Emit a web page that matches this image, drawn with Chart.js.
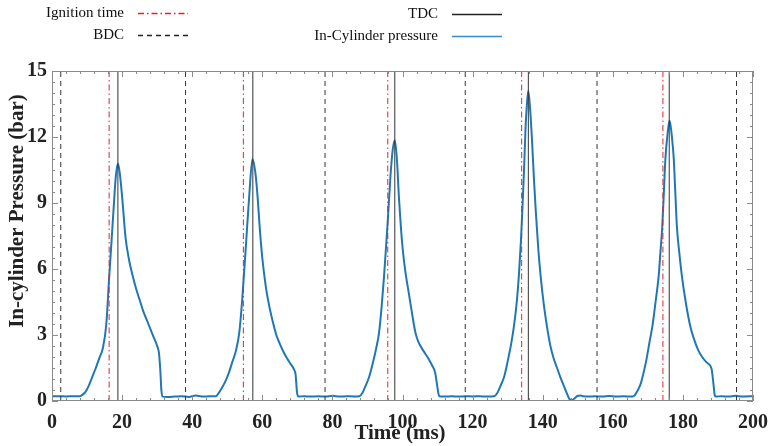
<!DOCTYPE html>
<html>
<head>
<meta charset="utf-8">
<script src="https://cdn.jsdelivr.net/npm/chart.js@4.4.1/dist/chart.umd.min.js"></script>
<style>
  body { margin: 0; background: #fff; }
  .wrap { width: 778px; height: 446px; position: relative; }
</style>
</head>
<body>
<div class="wrap"><canvas class="js-pressure"></canvas></div>
<script>
// event times (ms)
const ignitionTimes = [16.3, 54.6, 95.8, 134.0, 174.3];
const tdcTimes = [18.8, 57.3, 97.8, 135.9, 176.1];
const bdcTimes = [2.5, 38.1, 77.9, 117.9, 155.5, 195.3];

const cycle1Time = [0, 2, 4, 6, 8, 8.4, 9.5, 10.5, 11.5, 12.5, 13.5, 14.5, 15.5, 16.3, 17.0, 17.6, 18.2, 18.8, 19.3, 20.0, 21.0, 22.0, 23.0, 24.0, 25.0, 26.0, 27.0, 28.0, 29.0, 30.0, 30.5, 30.9, 31.2, 31.5];
const cycle1Pressure = [0.22, 0.22, 0.21, 0.22, 0.22, 0.25, 0.4, 0.7, 1.1, 1.5, 1.95, 2.4, 3.5, 5.6, 7.3, 8.8, 10.2, 10.8, 10.4, 9.3, 7.4, 6.4, 5.7, 5.1, 4.6, 4.1, 3.7, 3.3, 2.9, 2.5, 2.2, 1.4, 0.5, 0.2];

const cycle2Time = [33, 35, 37, 39, 41, 43, 45, 46.8, 47.5, 48.5, 49.5, 50.5, 51.5, 52.5, 53.5, 54.4, 55.3, 56.3, 57.2, 58.0, 58.6, 59.3, 60.0, 61.0, 62.0, 63.0, 64.0, 65.0, 66.0, 67.0, 68.0, 69.0, 69.5, 69.9, 70.3];
const cycle2Pressure = [0.18, 0.2, 0.22, 0.18, 0.25, 0.2, 0.22, 0.22, 0.35, 0.6, 0.9, 1.3, 1.8, 2.3, 3.2, 4.9, 7.0, 9.4, 11.0, 10.4, 9.4, 7.8, 6.5, 5.2, 4.3, 3.6, 3.0, 2.6, 2.25, 1.95, 1.7, 1.45, 1.2, 0.4, 0.2];

const cycle3Time = [72, 74, 76, 78, 80, 82, 84, 86, 87.7, 88.5, 89.5, 90.5, 91.5, 92.5, 93.3, 94.0, 94.7, 95.3, 95.8, 96.6, 97.2, 97.8, 98.4, 99.0, 99.5, 100.0, 100.8, 101.8, 102.8, 103.7, 104.5, 105.5, 106.5, 107.5, 108.5, 109.3, 109.8, 110.3, 110.7];
const cycle3Pressure = [0.22, 0.2, 0.22, 0.2, 0.24, 0.2, 0.22, 0.21, 0.22, 0.35, 0.7, 1.1, 1.7, 2.4, 3.1, 4.2, 5.6, 7.0, 8.2, 10.3, 11.4, 11.85, 11.0, 9.2, 8.0, 7.0, 5.9, 4.9, 3.9, 3.1, 2.7, 2.4, 2.15, 1.9, 1.6, 1.3, 0.8, 0.3, 0.2];

const cycle4Time = [112, 114, 116, 118, 120, 122, 124, 126.2, 127, 128, 129, 130, 131, 131.8, 132.6, 133.2, 133.8, 134.2, 134.7, 135.1, 135.5, 135.9, 136.4, 137.0, 137.5, 138.0, 138.7, 139.4, 140.3, 141.2, 142.2, 143.2, 144.1, 145.0, 146.0, 146.9, 147.6, 148.3, 149.0, 149.8, 150.7, 151.5];
const cycle4Pressure = [0.2, 0.22, 0.2, 0.22, 0.21, 0.22, 0.2, 0.22, 0.35, 0.7, 1.1, 1.8, 2.6, 3.4, 4.5, 5.7, 7.3, 8.7, 10.6, 12.4, 13.5, 14.1, 13.3, 11.7, 10.1, 8.7, 7.0, 5.7, 4.4, 3.4, 2.5, 1.9, 1.5, 1.1, 0.7, 0.35, 0.1, 0.05, 0.1, 0.22, 0.25, 0.22];

const cycle5Time = [153, 155, 157, 159, 161, 163, 165, 166, 167, 168, 168.5, 169.5, 170.5, 171.3, 172.2, 173.1, 173.6, 174.1, 174.6, 175.0, 175.6, 176.2, 176.8, 177.4, 177.8, 178.3, 179.0, 179.7, 180.8, 182.1, 183.2, 184.4, 185.5, 186.5, 187.2, 188.2, 188.7, 189.1, 189.5];
const cycle5Pressure = [0.2, 0.22, 0.2, 0.23, 0.2, 0.22, 0.2, 0.22, 0.45, 0.8, 1.1, 1.8, 2.7, 3.4, 4.5, 5.7, 6.8, 7.9, 9.6, 11.0, 12.1, 12.75, 12.1, 11.0, 9.6, 7.9, 6.7, 5.7, 4.5, 3.4, 2.8, 2.3, 2.0, 1.8, 1.7, 1.45, 0.8, 0.25, 0.2];

const tailTime = [191, 193, 195, 197, 200];
const tailPressure = [0.22, 0.2, 0.24, 0.2, 0.22];

const xTicks = [0, 20, 40, 60, 80, 100, 120, 140, 160, 180, 200];
const yTicks = [0, 3, 6, 9, 12, 15];

const serif = "'Liberation Serif', 'Times New Roman', serif";

const toPoints = (times, values) => times.map((t, i) => ({ x: t, y: values[i] }));
const vLines = (times) => times.flatMap((t) => [{ x: t, y: 0 }, { x: t, y: 15 }, { x: t, y: null }]);

const pressurePoints = [
  ...toPoints(cycle1Time, cycle1Pressure),
  ...toPoints(cycle2Time, cycle2Pressure),
  ...toPoints(cycle3Time, cycle3Pressure),
  ...toPoints(cycle4Time, cycle4Pressure),
  ...toPoints(cycle5Time, cycle5Pressure),
  ...toPoints(tailTime, tailPressure),
];

// frame, inward ticks, axis titles and legend
const decorations = {
  id: "decorations",
  afterDraw(chart) {
    const ctx = chart.ctx;
    const area = chart.chartArea;
    const xs = chart.scales.x;
    const ys = chart.scales.y;
    ctx.save();
    ctx.strokeStyle = "#8a8a8a";
    ctx.lineWidth = 1;
    ctx.setLineDash([]);
    ctx.strokeRect(area.left + 0.5, area.top + 0.5, area.right - area.left - 1, area.bottom - area.top - 1);

    ctx.beginPath();
    for (let v = 0; v <= 200; v += 4) {
      const px = Math.round(xs.getPixelForValue(v)) + 0.5;
      const len = v % 20 === 0 ? 6 : 3;
      ctx.moveTo(px, area.bottom);
      ctx.lineTo(px, area.bottom - len);
      ctx.moveTo(px, area.top);
      ctx.lineTo(px, area.top + len);
    }
    for (let v = 0; v <= 15; v += 0.5) {
      const py = Math.round(ys.getPixelForValue(v)) + 0.5;
      const len = v % 3 === 0 ? 6 : 3;
      ctx.moveTo(area.left, py);
      ctx.lineTo(area.left + len, py);
      ctx.moveTo(area.right, py);
      ctx.lineTo(area.right - len, py);
    }
    ctx.stroke();

    // axis titles
    ctx.fillStyle = "#222";
    ctx.font = "bold 21px " + serif;
    ctx.textAlign = "center";
    ctx.textBaseline = "middle";
    ctx.fillText("Time (ms)", 400, 434);
    ctx.save();
    ctx.translate(18, 211);
    ctx.rotate(-Math.PI / 2);
    ctx.fillText("In-cylinder Pressure (bar)", 0, 0);
    ctx.restore();

    // legend
    const items = [
      { label: "Ignition time", tx: 124, lx: 138, y: 13, color: "#e8202a", dash: [6, 3, 1.5, 3] },
      { label: "BDC", tx: 124, lx: 138, y: 35, color: "#222", dash: [5, 4] },
      { label: "TDC", tx: 438, lx: 452, y: 14, color: "#222", dash: [] },
      { label: "In-Cylinder pressure", tx: 438, lx: 452, y: 36, color: "#3a8cc8", dash: [] },
    ];
    ctx.font = "15px " + serif;
    ctx.textAlign = "right";
    items.forEach((it) => {
      ctx.fillStyle = "#111";
      ctx.fillText(it.label, it.tx, it.y);
      ctx.strokeStyle = it.color;
      ctx.lineWidth = 1.3;
      ctx.setLineDash(it.dash);
      ctx.beginPath();
      ctx.moveTo(it.lx, it.y + 0.5);
      ctx.lineTo(it.lx + 50, it.y + 0.5);
      ctx.stroke();
    });
    ctx.restore();
  },
};

const chartPressure = function () {
  const canvas = document.querySelector(".js-pressure");

  new Chart(canvas, {
    type: "line",
    data: {
      datasets: [
        {
          label: "Ignition time",
          data: vLines(ignitionTimes),
          borderColor: "#e8202a",
          borderWidth: 1,
          borderDash: [6, 3, 1.5, 3],
          pointRadius: 0,
          spanGaps: false,
        },
        {
          label: "TDC",
          data: vLines(tdcTimes),
          borderColor: "#333",
          borderWidth: 1,
          pointRadius: 0,
          spanGaps: false,
        },
        {
          label: "BDC",
          data: vLines(bdcTimes),
          borderColor: "#333",
          borderWidth: 1,
          borderDash: [5, 4],
          pointRadius: 0,
          spanGaps: false,
        },
        {
          label: "In-Cylinder pressure",
          data: pressurePoints,
          borderColor: "#1f78b4",
          borderWidth: 2,
          pointRadius: 0,
          cubicInterpolationMode: "monotone",
        },
      ],
    },
    options: {
      responsive: true,
      maintainAspectRatio: false,
      animation: false,
      layout: { padding: { top: 71, right: 16, left: 0, bottom: 0 } },
      scales: {
        x: {
          type: "linear",
          min: 0,
          max: 200,
          afterFit: (scale) => { scale.height = 45; },
          afterBuildTicks: (scale) => { scale.ticks = xTicks.map((v) => ({ value: v })); },
          grid: { display: false, drawTicks: false },
          border: { display: false },
          ticks: {
            color: "#222",
            padding: 10,
            maxRotation: 0,
            font: { family: serif, size: 20, weight: "bold" },
          },
        },
        y: {
          min: 0,
          max: 15,
          afterFit: (scale) => { scale.width = 52; },
          afterBuildTicks: (scale) => { scale.ticks = yTicks.map((v) => ({ value: v })); },
          grid: { display: false, drawTicks: false },
          border: { display: false },
          ticks: {
            color: "#222",
            padding: 5,
            font: { family: serif, size: 20, weight: "bold" },
          },
        },
      },
      plugins: {
        legend: { display: false },
        tooltip: { enabled: false },
      },
    },
    plugins: [decorations],
  });
};

document.addEventListener("DOMContentLoaded", chartPressure);
</script>
</body>
</html>
